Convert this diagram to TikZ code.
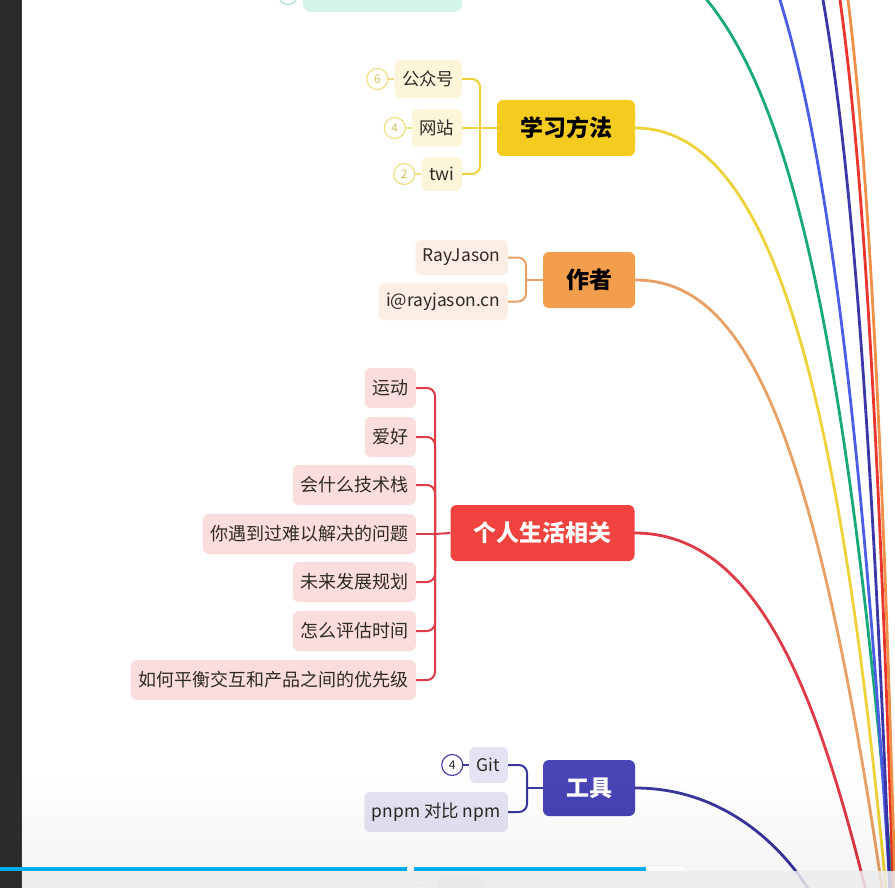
\documentclass[tikz,border=0pt]{standalone}
\usepackage{fontspec}
\setmainfont{Noto Sans CJK SC}
\usetikzlibrary{positioning}
\definecolor{bgdark}{HTML}{2B2B2B}
\definecolor{ylwMain}{HTML}{F4CB1F}
\definecolor{ylwLine}{HTML}{EDD23A}
\definecolor{ylwChild}{HTML}{FDF5DA}
\definecolor{ylwCirc}{HTML}{F0DD80}
\definecolor{ylwNum}{HTML}{D2C25E}
\definecolor{orgMain}{HTML}{F29E4C}
\definecolor{orgLine}{HTML}{E9A064}
\definecolor{orgChild}{HTML}{FCEEE4}
\definecolor{redMain}{HTML}{F0433F}
\definecolor{redLine}{HTML}{DF3A48}
\definecolor{redChild}{HTML}{FCDDDD}
\definecolor{indMain}{HTML}{4A45B6}
\definecolor{indLine}{HTML}{3C389E}
\definecolor{indChild}{HTML}{E4E3F4}
\definecolor{tealLine}{HTML}{17A97A}
\definecolor{tealChild}{HTML}{D4F4E8}
\definecolor{tealCirc}{HTML}{A6E2CC}
\definecolor{blueLine}{HTML}{4B5DE4}
\definecolor{indTop}{HTML}{3B37A8}
\definecolor{redTop}{HTML}{E9352B}
\definecolor{orgTop}{HTML}{F09048}
\definecolor{progress}{HTML}{00AEEF}
\definecolor{textdark}{HTML}{2E2A26}
\newcommand\fsChildTxt{\fontsize{17.4}{17.4}\selectfont}
\newcommand\fsRedTxt{\fontsize{18}{18}\selectfont}
\newcommand\fsMainTxt{\fontsize{23}{23}\selectfont\bfseries}
\newcommand\fsNumTxt{\fontsize{12}{12}\selectfont}
\begin{document}
\begin{tikzpicture}[x=1pt,y=-1pt,
  mainbox/.style={rounded corners=6pt, minimum height=56pt, inner xsep=23pt, inner ysep=0pt, font=\fsMainTxt},
  childbox/.style={rounded corners=6pt, minimum height=38pt, inner xsep=7.5pt, inner ysep=0pt, font=\fsChildTxt, text=textdark, anchor=east},
  redbox/.style={childbox, fill=redChild, minimum height=40pt, font=\fsRedTxt},
  numcirc/.style={circle, draw, line width=1.1pt, minimum size=21pt, inner sep=0pt, font=\fsNumTxt},
  branch/.style={line width=2pt, rounded corners=8pt},
  bigcurve/.style={line width=2.8pt, line cap=round}
]
\useasboundingbox (0,0) rectangle (895,888);
\fill[white] (0,0) rectangle (895,888);

% partial nodes at top and bottom edges
\begin{scope}
\clip (22,0) rectangle (895,888);
\fill[tealChild, rounded corners=8pt] (303,-40) rectangle (462,12);
\draw[tealCirc, line width=1.1pt] (288,-5) circle (9.5);
\fill[indChild, rounded corners=8pt] (437,877) rectangle (485,920);
\draw[indChild!80!gray, line width=1pt] (421,894) circle (9.5);
\end{scope}

% ---------- 学习方法 ----------
\node[mainbox, fill=ylwMain, text=black] (xx) at (566,128) {学习方法};
\node[childbox, fill=ylwChild] (gzh) at (462,79) {公众号};
\node[childbox, fill=ylwChild] (wz) at (462,128) {网站};
\node[childbox, fill=ylwChild, minimum height=34pt] (twi) at (462,174) {twi};
\node[numcirc, draw=ylwCirc, text=ylwNum, left=6pt of gzh] (n6) {6};
\node[numcirc, draw=ylwCirc, text=ylwNum, left=6pt of wz] (n4a) {4};
\node[numcirc, draw=ylwCirc, text=ylwNum, left=6pt of twi] (n2) {2};
\draw[ylwCirc, line width=1.1pt] (n6) -- (gzh);
\draw[ylwCirc, line width=1.1pt] (n4a) -- (wz);
\draw[ylwCirc, line width=1.1pt] (n2) -- (twi);
\coordinate (xxb) at (480,128);
\draw[branch, ylwLine] (xx.west) -- (xxb);
\draw[branch, ylwLine] (xxb) |- (gzh.east);
\draw[branch, ylwLine] (xxb) -- (wz.east);
\draw[branch, ylwLine] (xxb) |- (twi.east);

% ---------- 作者 ----------
\node[mainbox, fill=orgMain, text=black] (zz) at (589,280) {作者};
\node[childbox, fill=orgChild, minimum height=35pt] (rj) at (508,257.5) {RayJason};
\node[childbox, fill=orgChild, minimum height=37pt] (em) at (508,301.5) {i@rayjason.cn};
\coordinate (zzb) at (526,280);
\draw[branch, orgLine] (zz.west) -- (zzb);
\draw[branch, orgLine] (zzb) |- (rj.east);
\draw[branch, orgLine] (zzb) |- (em.east);

% ---------- 个人生活相关 ----------
\node[mainbox, fill=redMain, text=white] (gr) at (542.5,533) {个人生活相关};
\node[redbox] (r1) at (416,388) {运动};
\node[redbox] (r2) at (416,437) {爱好};
\node[redbox] (r3) at (416,485) {会什么技术栈};
\node[redbox] (r4) at (416,534) {你遇到过难以解决的问题};
\node[redbox] (r5) at (416,582) {未来发展规划};
\node[redbox] (r6) at (416,631) {怎么评估时间};
\node[redbox] (r7) at (416,680) {如何平衡交互和产品之间的优先级};
\coordinate (grb) at (435,534);
\draw[branch, redLine] (gr.west) -- (grb);
\foreach \c in {r1,r2,r3,r5,r6,r7} {\draw[branch, redLine] (grb) |- (\c.east);}
\draw[branch, redLine] (grb) -- (r4.east);

% ---------- 工具 ----------
\node[mainbox, fill=indMain, text=white] (gj) at (589,788) {工具};
\node[childbox, fill=indChild, minimum height=36pt] (git) at (508,765) {Git};
\node[childbox, fill=indChild, minimum height=40pt] (pn) at (508,812) {pnpm 对比 npm};
\node[numcirc, draw=indLine, text=textdark, left=6pt of git] (n4b) {4};
\draw[indLine, line width=1.1pt] (n4b) -- (git);
\coordinate (gjb) at (527,788);
\draw[branch, indLine] (gj.west) -- (gjb);
\draw[branch, indLine] (gjb) |- (git.east);
\draw[branch, indLine] (gjb) |- (pn.east);

% ---------- big curves towards the root ----------
\begin{scope}
\clip (22,0) rectangle (895,888);
\draw[bigcurve, tealLine] plot[smooth, domain=-70:900, samples=60, variable=\t] ({707+81*ln((\t+100)/100)}, {\t});
\draw[bigcurve, blueLine] plot[smooth, domain=-150:900, samples=60, variable=\t] ({780+68*ln((\t+220)/220)}, {\t});
\draw[bigcurve, indTop] plot[smooth, domain=-150:900, samples=60, variable=\t] ({823+44*ln((\t+250)/250)}, {\t});
\draw[bigcurve, redTop] plot[smooth, domain=-150:900, samples=60, variable=\t] ({840+35*ln((\t+250)/250)}, {\t});
\draw[bigcurve, orgTop] plot[smooth, domain=-150:900, samples=60, variable=\t] ({848+31*ln((\t+250)/250)}, {\t});
\draw[bigcurve, ylwLine] (xx.east) .. controls (780,128) and (843,425) .. (887,900);
\draw[bigcurve, orgLine] (zz.east) .. controls (740,280) and (812,410) .. (882,888) -- (886,915);
\draw[bigcurve, redLine] (gr.east) .. controls (760,533) and (818,700) .. (865,887) -- (872,915);
\draw[bigcurve, indLine] (gj.east) .. controls (725,788) and (782,848) .. (807,887) -- (830,925);
\end{scope}

% ---------- screen chrome ----------
\fill[bgdark] (0,0) rectangle (21,888);
\fill[gray!45!black] (21,0) rectangle (22,888);
\foreach \k in {0,...,9} {\fill[black, opacity=0.004] (22,{780+9*\k}) rectangle (895,871);}
\fill[black!8, opacity=0.85] (22,871) rectangle (895,888);
\fill[white, opacity=0.6] (646,867) rectangle (684,871);
\fill[progress] (0,867) rectangle (407,871);
\fill[progress] (414,867) rectangle (646,871);
\end{tikzpicture}
\end{document}
